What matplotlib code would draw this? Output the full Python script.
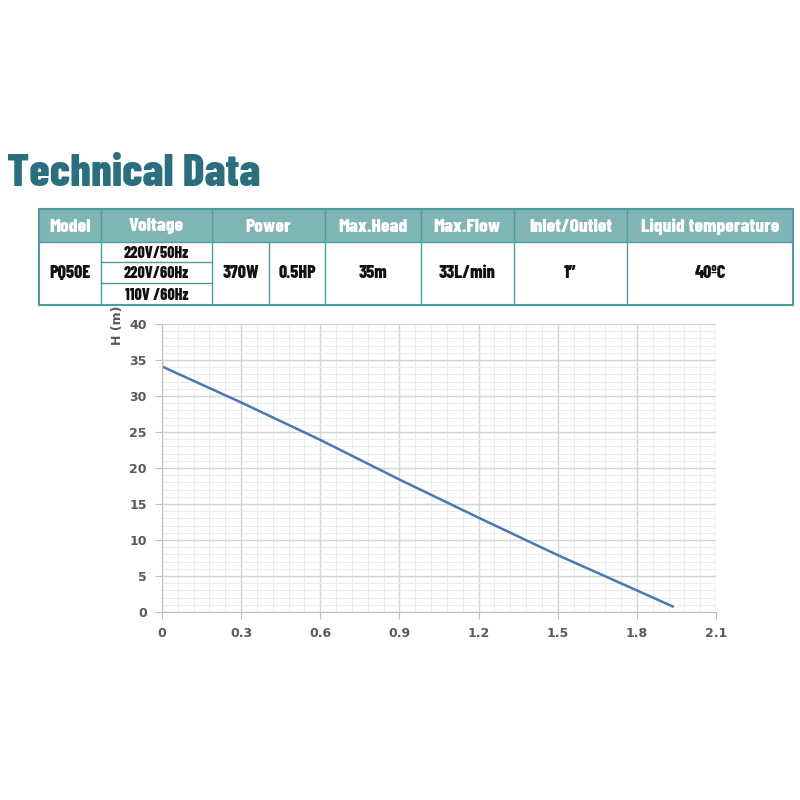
import matplotlib.pyplot as plt
from matplotlib.patches import Rectangle

# pump curve
flow = [0, 0.3, 0.6, 0.9, 1.2, 1.5, 1.8, 1.94]
head = [34.1, 29.1, 23.9, 18.4, 13.1, 7.9, 3.0, 0.7]

headers = ["Model", "Voltage", "Power", "Max.Head", "Max.Flow", "Inlet/Outlet", "Liquid temperature"]
model = "PQ50E"
voltages = ["220V/50Hz", "220V/60Hz", "110V /60Hz"]
power = ["370W", "0.5HP"]
max_head = "35m"
max_flow = "33L/min"
inlet = "1\u2033"
liquid_temp = "40\u00baC"

x_ticks = [0, 0.3, 0.6, 0.9, 1.2, 1.5, 1.8, 2.1]
y_ticks = [0, 5, 10, 15, 20, 25, 30, 35, 40]

COND = ["Barlow Condensed", "DejaVu Sans"]
TEAL = "#7fb5b5"
EDGE = "#4f9c9c"

fig = plt.figure(figsize=(8, 8), dpi=100)

# overlay in pixel coordinates for the title and table
ov = fig.add_axes([0, 0, 1, 1])
ov.set_xlim(0, 800)
ov.set_ylim(800, 0)
ov.axis("off")

ov.text(7, 186, "Technical Data", fontsize=33, fontweight=800, color="#2b6f7e",
        family=COND, va="baseline", ha="left")

col_x = [39, 101, 212, 325, 421, 514, 627, 793]
top, mid, bot = 209, 242, 305
ov.add_patch(Rectangle((col_x[0], top), col_x[-1] - col_x[0], mid - top, facecolor=TEAL, edgecolor="none"))
ov.add_patch(Rectangle((col_x[0], top), col_x[-1] - col_x[0], bot - top, facecolor="none", edgecolor=EDGE, lw=1.5))
ov.plot([col_x[0], col_x[-1]], [mid, mid], color=EDGE, lw=1)
for cx in col_x[1:-1]:
    ov.plot([cx, cx], [top, bot], color=EDGE, lw=1)
ov.plot([269, 269], [mid, bot], color=EDGE, lw=1)
row_y = [mid, 262, 283, bot]
for ry in row_y[1:-1]:
    ov.plot([col_x[1], col_x[2]], [ry, ry], color=EDGE, lw=1)

for i, h in enumerate(headers):
    ov.text((col_x[i] + col_x[i + 1]) / 2, (top + mid) / 2 + 1, h, color="white", fontsize=14,
            fontweight=800, family=COND, ha="center", va="center")

body_mid = (mid + bot) / 2
body_kw = dict(color="#111111", fontsize=13, fontweight=800, family=COND, ha="center", va="center")
volt_kw = dict(body_kw, fontsize=11.5)
ov.text((col_x[0] + col_x[1]) / 2, body_mid, model, **body_kw)
for j, v in enumerate(voltages):
    ov.text((col_x[1] + col_x[2]) / 2, (row_y[j] + row_y[j + 1]) / 2 + 1.5, v, **volt_kw)
ov.text((col_x[2] + 269) / 2, body_mid, power[0], **body_kw)
ov.text((269 + col_x[3]) / 2, body_mid, power[1], **body_kw)
ov.text((col_x[3] + col_x[4]) / 2, body_mid, max_head, **body_kw)
ov.text((col_x[4] + col_x[5]) / 2, body_mid, max_flow, **body_kw)
ov.text((col_x[5] + col_x[6]) / 2, body_mid, inlet, **body_kw)
ov.text((col_x[6] + col_x[7]) / 2, body_mid, liquid_temp, **body_kw)

# performance curve
ax = fig.add_axes([162 / 800, 188 / 800, 554 / 800, 288 / 800])
ax.plot(flow, head, color="#4a78b0", lw=1.8, solid_capstyle="butt")
ax.set_xlim(0, 2.1)
ax.set_ylim(0, 40)
ax.set_xticks(x_ticks)
ax.set_xticklabels([f"{t:g}" for t in x_ticks])
ax.set_yticks(y_ticks)
ax.set_xticks([i * 0.06 for i in range(36)], minor=True)
ax.set_yticks(range(41), minor=True)
ax.grid(which="major", color="#d4d4d4", lw=1)
ax.grid(which="minor", color="#ececec", lw=0.7)
ax.set_axisbelow(True)
for s in ["top", "right"]:
    ax.spines[s].set_visible(False)
for s in ["left", "bottom"]:
    ax.spines[s].set_color("#bfbfbf")
ax.tick_params(which="major", length=5, color="#bfbfbf", labelcolor="#595959", labelsize=9, pad=6)
ax.tick_params(which="minor", length=0)
for lab in ax.get_xticklabels() + ax.get_yticklabels():
    lab.set_fontweight("bold")
ax.set_ylabel("H (m)", color="#595959", fontsize=9, fontweight="bold", va="center")
ax.yaxis.set_label_coords(-0.081, 0.995)

fig.savefig("out.png", dpi=100)
